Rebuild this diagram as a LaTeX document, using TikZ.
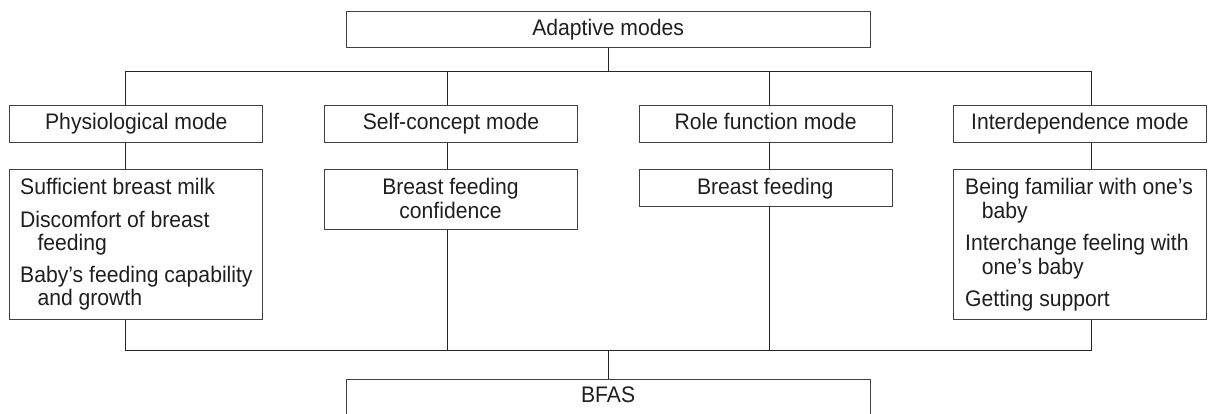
\documentclass[tikz,border=0pt]{standalone}
\usepackage{fontspec}
\setmainfont{Liberation Sans}[FakeStretch=0.94]
\begin{document}
\begin{tikzpicture}[x=1pt,y=-1pt,
  every node/.style={font=\fontsize{22.5}{23.5}\selectfont, text=black!88},
  box/.style={draw=black!75, line width=0.9pt, inner sep=0pt, anchor=north west, text height=16pt, text depth=4.7pt},
  ln/.style={draw=black!85, line width=0.9pt},
  txt/.style={anchor=base west, inner sep=0pt},
  ctxt/.style={anchor=base, inner sep=0pt}]
\useasboundingbox (0,0) rectangle (1209,414);
\fill[white] (0,0) rectangle (1209,414);
% boxes
\node[box, minimum width=524pt, minimum height=36.6pt] (top) at (345.7,10.7) {Adaptive modes};
\node[box, minimum width=253pt, minimum height=37pt] (phys) at (9.3,105.3) {Physiological mode};
\node[box, minimum width=252.4pt, minimum height=37pt] (self) at (324.3,105.3) {Self-concept mode};
\node[box, minimum width=253pt, minimum height=37pt] (role) at (638.7,105.3) {Role function mode};
\node[box, minimum width=252.4pt, minimum height=37pt] (inter) at (953.3,105.3) {Interdependence mode};
\node[box, minimum width=253pt, minimum height=150pt] (physL) at (9.3,169.3) {};
\node[box, minimum width=252.4pt, minimum height=60pt] (selfL) at (324.3,169.3) {};
\node[box, minimum width=253pt, minimum height=36.7pt] (roleL) at (638.7,169.3) {};
\node[box, minimum width=252.4pt, minimum height=150pt] (interL) at (953.3,169.3) {};
\node[box, minimum width=524pt, minimum height=36.6pt] (bfas) at (345.7,378.5) {BFAS};
% connector coordinates
\coordinate (c1) at (125.3,0);
\coordinate (c2) at (447.3,0);
\coordinate (c3) at (769.3,0);
\coordinate (c4) at (1091.7,0);
\coordinate (tb) at (0,71.7);
\coordinate (bb) at (0,350.7);
% connectors
\draw[ln] (top.south) -- (top.south |- tb);
\draw[ln] (c1 |- tb) -- (c4 |- tb);
\draw[ln] (c1 |- tb) -- (phys.north -| c1);
\draw[ln] (c2 |- tb) -- (self.north -| c2);
\draw[ln] (c3 |- tb) -- (role.north -| c3);
\draw[ln] (c4 |- tb) -- (inter.north -| c4);
\draw[ln] (phys.south -| c1) -- (physL.north -| c1);
\draw[ln] (self.south -| c2) -- (selfL.north -| c2);
\draw[ln] (role.south -| c3) -- (roleL.north -| c3);
\draw[ln] (inter.south -| c4) -- (interL.north -| c4);
\draw[ln] (physL.south -| c1) -- (c1 |- bb);
\draw[ln] (selfL.south -| c2) -- (c2 |- bb);
\draw[ln] (roleL.south -| c3) -- (c3 |- bb);
\draw[ln] (interL.south -| c4) -- (c4 |- bb);
\draw[ln] (c1 |- bb) -- (c4 |- bb);
\draw[ln] (bfas.north) -- (bfas.north |- bb);
% texts
\node[txt] (p1) at (20,194.3) {Sufficient breast milk};
\node[txt] (p2) at (20,227) {Discomfort of breast};
\node[txt] (p3) at (37.3,250) {feeding};
\node[txt] (p4) at (20,282.5) {Baby’s feeding capability};
\node[txt] (p5) at (37.3,305.5) {and growth};
\node[ctxt] (s1) at (450.5,194.3) {Breast feeding};
\node[ctxt] (s2) at (450.5,218.3) {confidence};
\node[ctxt] (r1) at (765.2,194.3) {Breast feeding};
\node[txt] (i1) at (965,194.3) {Being familiar with one’s};
\node[txt] (i2) at (981.7,218) {baby};
\node[txt] (i3) at (965,250.3) {Interchange feeling with};
\node[txt] (i4) at (981.7,274) {one’s baby};
\node[txt] (i5) at (965,306.5) {Getting support};
\end{tikzpicture}
\end{document}
